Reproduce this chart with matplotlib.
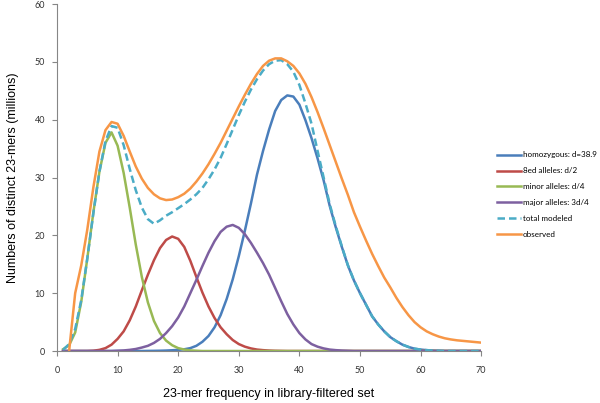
import numpy as np
import matplotlib
matplotlib.use('Agg')
import matplotlib.pyplot as plt

# 23-mer frequency (x axis), one point per integer frequency
freq = list(range(1, 71))

# modelled components (millions of distinct 23-mers)
homozygous = [0] * 14 + [
    0.02, 0.03, 0.05, 0.08, 0.13, 0.2, 0.3, 0.5, 0.9, 1.6,
    2.6, 4.1, 6.2, 9.0, 12.4, 16.4, 20.8, 25.5, 30.5, 34.6,
    38.3, 41.5, 43.4, 44.2, 44.0, 42.6, 39.9, 36.8, 33.3, 29.5,
    25.1, 21.4, 18.0, 14.8, 12.2, 10.0, 8.0, 6.0, 4.6, 3.4,
    2.4, 1.7, 1.1, 0.7, 0.4, 0.25, 0.15, 0.08, 0.04] + [0] * 7

bed_alleles = [0, 0, 0, 0, 0,
    0.05, 0.2, 0.5, 1.1, 2.1, 3.4, 5.3, 7.7, 10.5, 13.2,
    15.7, 17.8, 19.2, 19.8, 19.4, 18.0, 15.6, 12.8, 10.1, 7.7,
    5.7, 4.1, 2.9, 1.9, 1.2, 0.75, 0.45, 0.25, 0.15, 0.08,
    0.04, 0.02] + [0] * 33

minor_alleles = [0.3, 1.0, 3.2, 8.5, 16.0, 24.0, 31.0, 36.0, 37.8, 35.5,
    30.8, 24.8, 18.4, 12.8, 8.4, 5.2, 3.1, 1.8, 1.0, 0.5,
    0.25, 0.1, 0.05] + [0] * 47

major_alleles = [0] * 9 + [
    0.05, 0.1, 0.2, 0.35, 0.6, 0.9, 1.4, 2.1, 3.1, 4.3,
    5.8, 7.7, 10.0, 12.3, 14.7, 17.0, 19.0, 20.6, 21.5, 21.8,
    21.3, 20.2, 18.7, 17.0, 15.2, 13.2, 10.9, 8.6, 6.4, 4.6,
    3.1, 2.0, 1.2, 0.75, 0.45, 0.25, 0.15, 0.08, 0.04] + [0] * 22

total_modeled = [0.2, 1.2, 3.8, 8.8, 16.0, 23.8, 31.0, 36.3, 38.9, 38.6,
    35.6, 31.5, 27.8, 24.8, 22.8, 22.0, 22.6, 23.4, 24.0, 24.7,
    25.4, 26.2, 27.1, 28.2, 29.7, 31.4, 33.4, 35.8, 38.3, 40.8,
    43.1, 45.2, 47.0, 48.5, 49.6, 50.2, 50.3, 49.6, 48.3, 46.0,
    42.8, 39.3, 34.6, 30.0, 25.4, 21.6, 18.1, 14.85, 12.2, 10.0,
    8.0, 6.0, 4.6, 3.4, 2.4, 1.7, 1.1, 0.7, 0.4, 0.25,
    0.15, 0.08, 0.04] + [0] * 7

observed = [np.nan, 0, 10.0, 14.8, 21.0, 28.3, 34.5, 38.2, 39.6, 39.3,
    37.2, 34.5, 31.9, 29.8, 28.2, 27.1, 26.4, 26.1, 26.2, 26.6,
    27.2, 28.1, 29.3, 30.7, 32.3, 34.1, 36.0, 38.1, 40.2, 42.3,
    44.3, 46.2, 47.9, 49.3, 50.2, 50.6, 50.6, 50.1, 49.3, 48.0,
    46.2, 43.9, 41.3, 38.5, 35.6, 32.7, 29.8, 27.0, 24.0, 21.5,
    19.1, 16.8, 14.7, 12.7, 11.0, 9.2, 7.6, 6.2, 5.0, 4.1,
    3.4, 2.9, 2.5, 2.2, 2.0, 1.85, 1.75, 1.65, 1.55, 1.45]

labels = ['homozygous: d=38.9', '8ed alleles: d/2', 'minor alleles: d/4',
          'major alleles: 3d/4', 'total modeled', 'observed']
colors = ['#4a7ebb', '#be4b48', '#98b954', '#7d60a0', '#4bacc6', '#f79646']

fig = plt.figure(figsize=(6.0, 4.03), dpi=100)
ax = fig.add_axes([0.095, 0.129, 0.707, 0.861])

series = [homozygous, bed_alleles, minor_alleles, major_alleles, total_modeled, observed]
for i, vals in enumerate(series):
    if labels[i] == 'total modeled':
        ax.plot(freq, vals, color=colors[i], lw=1.8, dashes=(3, 1.6), label=labels[i])
    else:
        ax.plot(freq, vals, color=colors[i], lw=1.8, label=labels[i],
                solid_joinstyle='round')

ax.set_xlim(0, 70)
ax.set_ylim(0, 60)
ax.set_xticks(range(0, 71, 10))
ax.set_yticks(range(0, 61, 10))

# excel-ish axes: only left and bottom, grey, outward ticks
for side in ['top', 'right']:
    ax.spines[side].set_visible(False)
for side in ['left', 'bottom']:
    ax.spines[side].set_color('#868686')
    ax.spines[side].set_linewidth(0.8)
ax.tick_params(axis='both', direction='out', length=3.5, width=0.8,
               color='#868686', labelsize=6.5, labelcolor='#333333')
ax.tick_params(axis='x', pad=7)
ax.tick_params(axis='y', pad=5)
for lab in ax.get_xticklabels() + ax.get_yticklabels():
    lab.set_family('Lato')

ax.set_xlabel('23-mer frequency in library-filtered set', family='Liberation Sans',
              fontsize=9, labelpad=10)
ax.set_ylabel('Numbers of distinct 23-mers (millions)', family='Liberation Sans',
              fontsize=9, labelpad=11)

fig.legend(loc='center left', bbox_to_anchor=(0.821, 0.517), frameon=False,
           prop={'family': 'Lato', 'size': 5.8}, handlelength=3.0,
           handletextpad=0.25, labelspacing=1.1, borderpad=0)

fig.savefig('out.png', dpi=100)
